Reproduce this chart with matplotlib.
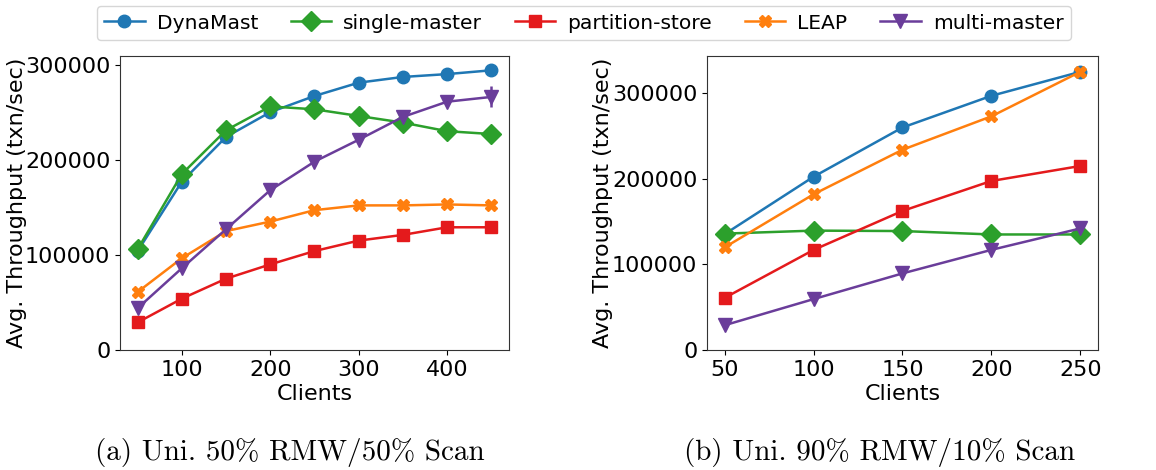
import matplotlib
matplotlib.use('Agg')
import matplotlib.pyplot as plt
from matplotlib.lines import Line2D

# clients on the x axis for each workload
clients_a = [50, 100, 150, 200, 250, 300, 350, 400, 450]
clients_b = [50, 100, 150, 200, 250]

# (a) uniform 50% RMW / 50% scan, throughput in txn/sec
dynamast_a = [104000, 177000, 224000, 250000, 267000, 281000, 287000, 290000, 294000]
single_a = [106000, 185000, 231000, 256000, 253000, 246000, 239000, 230000, 227000]
partition_a = [29000, 54000, 75000, 90000, 104000, 115000, 121000, 129000, 129000]
leap_a = [61000, 96500, 125000, 135000, 147000, 152000, 152000, 153000, 152000]
multi_a = [44000, 86000, 127000, 168000, 198000, 221000, 245000, 261000, 266000]
multi_a_err = [0, 0, 0, 0, 0, 0, 0, 0, 11000]

# (b) uniform 90% RMW / 10% scan
dynamast_b = [135500, 202500, 260000, 297000, 325000]
single_b = [136000, 139500, 139000, 135000, 135000]
partition_b = [61000, 117000, 162500, 197500, 215000]
leap_b = [120000, 182000, 234000, 273000, 325000]
multi_b = [29000, 59500, 89500, 117000, 142000]

names = ['DynaMast', 'single-master', 'partition-store', 'LEAP', 'multi-master']
colors = ['#1f77b4', '#2ca02c', '#e41a1c', '#ff7f0e', '#6a3d9a']
markers = ['o', 'D', 's', 'X', 'v']
msizes = [9, 10, 9, 9, 10]

fig = plt.figure(figsize=(11.56, 4.7), dpi=100)
ax1 = fig.add_axes([0.1038, 0.2553, 0.3365, 0.6255])
ax2 = fig.add_axes([0.6116, 0.2553, 0.3382, 0.6255])

series_a = [dynamast_a, single_a, partition_a, leap_a, multi_a]
series_b = [dynamast_b, single_b, partition_b, leap_b, multi_b]

for i in range(5):
    err = multi_a_err if names[i] == 'multi-master' else None
    ax1.errorbar(clients_a, series_a[i], yerr=err, color=colors[i], marker=markers[i],
                 markersize=msizes[i], linewidth=1.8, elinewidth=1.8)
    ax2.plot(clients_b, series_b[i], color=colors[i], marker=markers[i],
             markersize=msizes[i], linewidth=1.8)

ax1.set_ylim(0, 309000)
ax1.set_yticks([0, 100000, 200000, 300000])
ax1.set_xticks([100, 200, 300, 400])
ax2.set_ylim(0, 343500)
ax2.set_yticks([0, 100000, 200000, 300000])
ax2.set_xticks([50, 100, 150, 200, 250])

for ax in (ax1, ax2):
    ax.tick_params(labelsize=16)
    ax.set_xlabel('Clients', fontsize=16, labelpad=3)
    ax.set_ylabel('Avg. Throughput (txn/sec)', fontsize=16)
    ax.yaxis.set_label_coords(-0.24, 0.5)
    for s in ax.spines.values():
        s.set_color('#333333')

handles = [Line2D([], [], color=colors[i], marker=markers[i], markersize=msizes[i], linewidth=1.8)
           for i in range(5)]
fig.legend(handles, names, loc='center', bbox_to_anchor=(0.505, 0.951), ncol=5,
           fontsize=14.6, handlelength=2.0, columnspacing=1.6, frameon=True,
           borderpad=0.35, handletextpad=0.6)

fig.text(0.251, 0.038, '(a) Uni. 50% RMW/50% Scan', ha='center', va='center',
         family='cmr10', fontsize=21)
fig.text(0.761, 0.038, '(b) Uni. 90% RMW/10% Scan', ha='center', va='center',
         family='cmr10', fontsize=21)

fig.savefig('out.png', dpi=100)
